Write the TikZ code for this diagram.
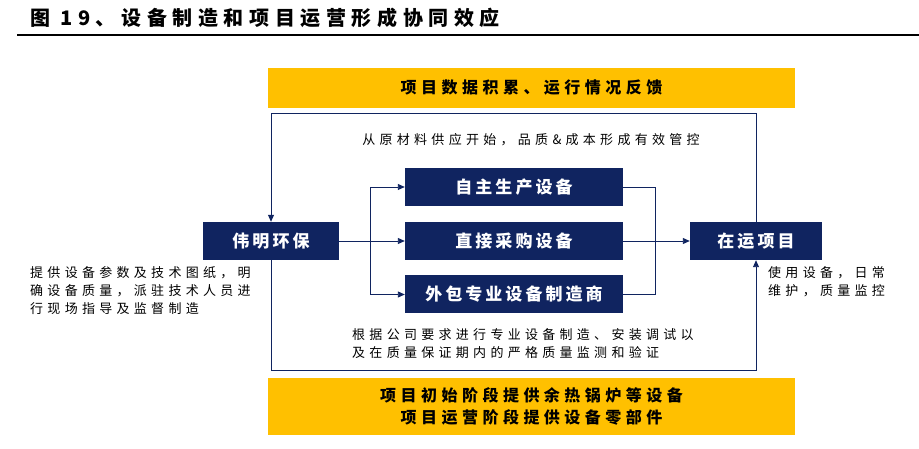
\documentclass[tikz,border=0pt]{standalone}
\usepackage{fontspec}
\setmainfont{Noto Sans CJK SC}
\usetikzlibrary{positioning,arrows.meta}
\definecolor{navy}{RGB}{16,36,96}
\definecolor{gold}{RGB}{255,192,0}
\newcommand{\spaced}[1]{\addfontfeature{LetterSpace=#1}}
\tikzset{
  bluebox/.style={fill=navy, text=white, font=\fontsize{17}{20}\selectfont\bfseries\spaced{18}, minimum height=38pt, inner sep=0pt},
  goldbox/.style={fill=gold, font=\fontsize{16}{22}\selectfont\bfseries\spaced{28}, minimum width=527pt, align=center, inner sep=0pt},
  note/.style={font=\fontsize{13}{18}\selectfont\spaced{33}, align=left, inner sep=0pt},
  link/.style={draw=navy, line width=0.9pt, -{Triangle[length=7pt,width=6pt]}},
  line/.style={draw=navy, line width=0.9pt}
}
\begin{document}
\begin{tikzpicture}[x=1pt,y=-1pt]
  \useasboundingbox (0,0) rectangle (919,449);
  % title
  \node[anchor=west, inner sep=0pt, font=\fontsize{20}{22}\selectfont\bfseries\spaced{28}] (title) at (30,18) {图 19、设备制造和项目运营形成协同效应};
  \draw[line width=1.2pt] (17,35) -- (919,35);

  \node[goldbox, minimum height=40pt] (feedback) at (531.5,88) {项目数据积累、运行情况反馈};
  \node[goldbox, minimum height=57pt] (supply) at (531.5,406.5) {项目初始阶段提供余热锅炉等设备\\项目运营阶段提供设备零部件};

  \node[bluebox, minimum width=136pt] (weiming) at (271,241) {伟明环保};
  \node[bluebox, minimum width=218pt] (self) at (514,187) {自主生产设备};
  \node[bluebox, minimum width=218pt] (buy) at (514,241) {直接采购设备};
  \node[bluebox, minimum width=218pt] (outsrc) at (514,294.5) {外包专业设备制造商};
  \node[bluebox, minimum width=132pt] (project) at (756,241) {在运项目};

  % loops
  \coordinate (tr) at (756,113);
  \coordinate (tl) at (271,113);
  \coordinate (bl) at (271,370);
  \coordinate (br) at (756,370);
  \draw[link] (project.north) -- (tr) -- (tl) -- (weiming.north);
  \draw[link] (weiming.south) -- (bl) -- (br) -- (project.south);

  % branches
  \coordinate (split) at (370,241);
  \coordinate (merge) at (655,241);
  \draw[link] (weiming.east) -- (buy.west);
  \draw[link] (split) |- (self.west);
  \draw[link] (split) |- (outsrc.west);
  \draw[line] (self.east) -| (merge);
  \draw[line] (outsrc.east) -| (merge);
  \draw[link] (buy.east) -- (project.west);

  \node[note] (cost) at (531,140) {从原材料供应开始，品质\&成本形成有效管控};
  \node[note, anchor=north west] (left) at (30,266) {提供设备参数及技术图纸，明\\确设备质量，派驻技术人员进\\行现场指导及监督制造};
  \node[note, anchor=north west] (right) at (768,266) {使用设备，日常\\维护，质量监控};
  \node[note, anchor=north west] (bottom) at (352,328) {根据公司要求进行专业设备制造、安装调试以\\及在质量保证期内的严格质量监测和验证};
\end{tikzpicture}
\end{document}
